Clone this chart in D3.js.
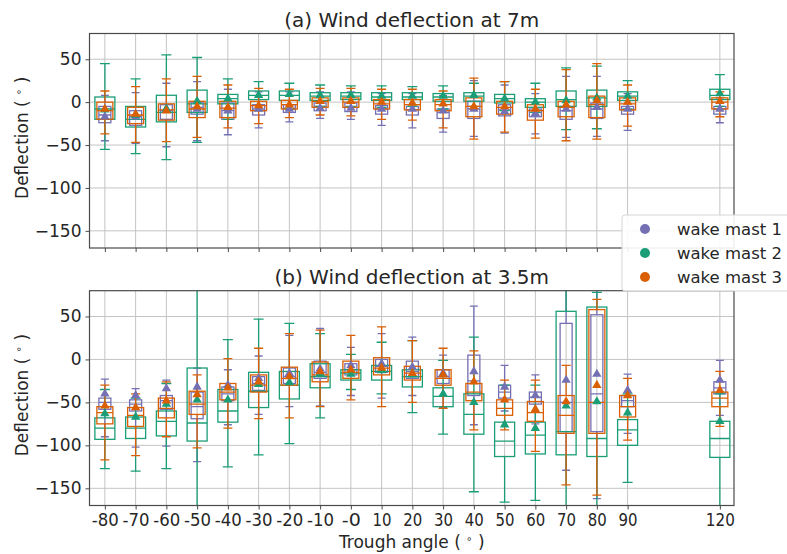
<!DOCTYPE html>
<html><head><meta charset="utf-8">
<script src="https://cdn.jsdelivr.net/npm/d3@7"></script>
<style>
body{margin:0;background:#fff;}
svg{display:block;font-family:"DejaVu Sans",sans-serif;}
</style></head>
<body><svg id="chart" width="787" height="554"></svg>
<script>
// ---------- data ----------
const angles = [-80,-70,-60,-50,-40,-30,-20,-10,0,10,20,30,40,50,60,70,80,90,120];
const angleLabels = ["-80","-70","-60","-50","-40","-30","-20","-10","-0","10","20","30","40","50","60","70","80","90","120"];
const seriesNames = ["wake mast 1","wake mast 2","wake mast 3"];
const seriesColors = ["#7570b3","#1b9e77","#d95f02"];
const yTicks = [50,0,-50,-100,-150];
const panelTitles = ["(a) Wind deflection at 7m","(b) Wind deflection at 3.5m"];
// each entry: [low whisker, q1, median, q3, high whisker, mean]
const a7m_mast1 = [[-45,-24,-15,-5,8,-17],[-48,-27,-17,-10,11,-17],[-52,-20,-10,-3,22,-8],[-45,-14,-6,0,24,-8],[-38,-20,-10,-1,15,-10],[-30,-15,-8,-3,12,-8],[-23,-12,-7,-3,12,-8],[-19,-10,-5,-1,12,-7],[-20,-11,-6,-1,12,-7],[-27,-14,-8,-4,10,-8],[-30,-15,-9,-5,10,-8],[-35,-19,-12,-8,8,-10],[-40,-19,-8,1,25,-8],[-36,-16,-9,-3,20,-11],[-37,-17,-12,-8,10,-13],[-41,-20,-10,-5,30,-8],[-40,-19,-8,-1,30,-6],[-33,-14,-9,-5,10,-8],[-24,-14,-8,-5,5,-8]];
const a7m_mast2 = [[-55,-20,-8,6,45,-9],[-60,-29,-20,-5,27,-15],[-67,-23,-12,8,55,-8],[-47,-12,-2,14,52,1],[-20,-2,4,9,27,4],[-10,3,8,13,24,8],[-8,2,8,13,22,9],[-5,2,7,11,20,8],[-5,3,7,11,19,8],[-6,2,6,11,19,7],[-5,3,6,11,18,7],[-8,1,6,10,19,7],[-5,1,7,11,22,8],[-10,-1,4,9,24,4],[-12,-6,0,4,22,0],[-32,-5,3,13,40,2],[-31,-5,5,14,42,5],[-8,2,7,12,25,7],[-5,3,8,15,32,10]];
const a7m_mast3 = [[-37,-20,-10,0,13,-8],[-47,-25,-15,-6,18,-14],[-46,-21,-9,-2,27,-10],[-41,-18,-8,1,30,-5],[-30,-18,-7,1,20,-6],[-25,-10,-4,1,16,-4],[-18,-8,-3,2,15,-3],[-15,-6,1,5,16,1],[-16,-6,0,5,16,1],[-20,-8,-2,3,15,0],[-21,-9,-3,3,15,-1],[-30,-10,-3,3,13,-2],[-43,-17,-5,5,28,-5],[-35,-14,-6,1,24,-5],[-42,-21,-10,-3,15,-8],[-45,-17,-6,1,38,-3],[-43,-18,-3,7,45,2],[-28,-9,-2,5,20,0],[-17,-8,0,5,12,1]];
const b35m_mast1 = [[-90,-58,-50,-45,-23,-40],[-102,-60,-52,-47,-34,-42],[-101,-58,-48,-42,-24,-34],[-119,-69,-55,-38,-10,-32],[-76,-48,-40,-32,-12,-30],[-64,-36,-28,-20,4,-22],[-55,-28,-20,-10,28,-16],[-54,-22,-15,-2,36,-11],[-42,-18,-12,-5,14,-7],[-45,-15,-8,0,30,-5],[-42,-22,-14,-2,26,-9],[-56,-28,-20,-12,5,-16],[-76,-42,-25,5,62,-14],[-60,-45,-38,-30,-7,-32],[-75,-52,-44,-38,-18,-42],[-129,-84,-50,42,95,-24],[-162,-84,-40,52,95,-17],[-86,-55,-48,-42,-17,-36],[-65,-40,-33,-26,-1,-24]];
const b35m_mast2 = [[-127,-93,-80,-68,-35,-63],[-130,-92,-80,-67,-45,-67],[-127,-89,-72,-60,-28,-52],[-185,-95,-74,-10,95,-47],[-125,-73,-60,-35,23,-47],[-111,-56,-37,-15,47,-29],[-98,-46,-30,-14,42,-27],[-68,-33,-20,-5,30,-16],[-35,-24,-16,-12,6,-17],[-40,-24,-14,-7,20,-13],[-62,-32,-20,-12,22,-18],[-87,-55,-43,-33,-1,-40],[-154,-87,-64,-40,26,-50],[-166,-113,-95,-73,-30,-76],[-164,-110,-88,-73,-30,-80],[-185,-111,-84,56,95,-54],[-185,-113,-92,61,78,-49],[-143,-100,-82,-70,-40,-62],[-185,-114,-92,-72,-40,-72]];
const b35m_mast3 = [[-117,-75,-62,-55,-30,-54],[-112,-78,-65,-56,-40,-56],[-90,-68,-57,-45,-26,-48],[-103,-64,-52,-37,-18,-41],[-80,-47,-38,-28,1,-33],[-69,-38,-30,-18,13,-26],[-68,-30,-22,-9,30,-20],[-55,-26,-18,-3,34,-14],[-47,-22,-15,-2,28,-12],[-55,-18,-10,2,38,-10],[-50,-24,-16,-8,22,-16],[-57,-30,-22,-12,13,-18],[-82,-48,-38,-28,10,-26],[-82,-65,-57,-47,-24,-47],[-107,-72,-62,-49,-24,-58],[-146,-86,-65,-42,-7,-49],[-158,-86,-50,58,70,-30],[-94,-67,-55,-42,-22,-42],[-78,-55,-45,-38,-14,-36]];

// ---------- layout ----------
const svg = d3.select("#chart");
const left = 89.5, right = 734;
const panels = [
  {top: 33.5, bottom: 248, title: panelTitles[0], data: [a7m_mast1, a7m_mast2, a7m_mast3], labels: false},
  {top: 290.7, bottom: 505.5, title: panelTitles[1], data: [b35m_mast1, b35m_mast2, b35m_mast3], labels: true}
];
const x = d3.scaleLinear().domain([-85, 124.6]).range([left, right]);
const boxW = [12, 20, 16];
const capW = [8, 10, 9];
const gridCol = "#c4c4c4", spineCol = "#4a4a4a", textCol = "#262626";

panels.forEach((p, pi) => {
  const y = d3.scaleLinear().domain([-170, 80]).range([p.bottom, p.top]);
  const g = svg.append("g");
  const clipId = "clip" + pi;
  svg.append("clipPath").attr("id", clipId).append("rect")
    .attr("x", left).attr("y", p.top).attr("width", right - left).attr("height", p.bottom - p.top);

  // grid
  g.append("g").selectAll("line").data(angles).join("line")
    .attr("x1", d => x(d)).attr("x2", d => x(d)).attr("y1", p.top).attr("y2", p.bottom)
    .attr("stroke", gridCol).attr("stroke-width", 1);
  g.append("g").selectAll("line").data(yTicks).join("line")
    .attr("x1", left).attr("x2", right).attr("y1", d => y(d)).attr("y2", d => y(d))
    .attr("stroke", gridCol).attr("stroke-width", 1);

  // boxes
  const marks = g.append("g").attr("clip-path", `url(#${clipId})`);
  p.data.forEach((ser, si) => {
    const col = seriesColors[si], w = boxW[si], cw = capW[si];
    const sg = marks.append("g").attr("stroke", col).attr("stroke-width", 1.3).attr("fill", "none");
    ser.forEach((d, i) => {
      const cx = x(angles[i]);
      const [lo, q1, med, q3, hi] = d;
      sg.append("line").attr("x1", cx).attr("x2", cx).attr("y1", y(q1)).attr("y2", y(lo));
      sg.append("line").attr("x1", cx).attr("x2", cx).attr("y1", y(q3)).attr("y2", y(hi));
      sg.append("line").attr("x1", cx - cw/2).attr("x2", cx + cw/2).attr("y1", y(lo)).attr("y2", y(lo));
      sg.append("line").attr("x1", cx - cw/2).attr("x2", cx + cw/2).attr("y1", y(hi)).attr("y2", y(hi));
      sg.append("rect").attr("x", cx - w/2).attr("y", y(q3)).attr("width", w).attr("height", y(q1) - y(q3));
      sg.append("line").attr("x1", cx - w/2).attr("x2", cx + w/2).attr("y1", y(med)).attr("y2", y(med));
    });
  });
  p.data.forEach((ser, si) => {
    marks.append("g").selectAll("path").data(ser).join("path")
      .attr("d", d3.symbol(d3.symbolTriangle, 38)())
      .attr("transform", (d, i) => `translate(${x(angles[i])},${y(d[5])})`)
      .attr("fill", seriesColors[si]);
  });

  // spines
  g.append("rect").attr("x", left).attr("y", p.top).attr("width", right - left).attr("height", p.bottom - p.top)
    .attr("fill", "none").attr("stroke", spineCol).attr("stroke-width", 1.2);

  // y axis
  const ya = g.append("g").attr("transform", `translate(${left},0)`)
    .call(d3.axisLeft(y).tickValues(yTicks).tickSize(4).tickPadding(4)
      .tickFormat(d => (d < 0 ? "\u2212" + Math.abs(d) : String(d))));
  ya.select(".domain").remove();
  ya.selectAll("line").attr("stroke", spineCol);
  ya.selectAll("text").attr("font-size", "17px").attr("fill", textCol).attr("font-family", "DejaVu Sans");

  // x axis
  const xa = g.append("g").attr("transform", `translate(0,${p.bottom})`)
    .call(d3.axisBottom(x).tickValues(angles).tickSize(4).tickPadding(4)
      .tickFormat((d, i) => p.labels ? angleLabels[i] : ""));
  xa.select(".domain").remove();
  xa.selectAll("line").attr("stroke", spineCol);
  xa.selectAll("text").attr("font-size", "17.5px").attr("fill", textCol).attr("font-family", "DejaVu Sans")
    .attr("textLength", 27).attr("lengthAdjust", "spacingAndGlyphs");
  xa.selectAll("text").filter((d, i) => angleLabels[i].length === 2).attr("textLength", 19);
  xa.selectAll("text").filter((d, i) => angleLabels[i].length === 3 && angleLabels[i][0] !== "-").attr("textLength", 29);

  // title
  svg.append("text").attr("x", (left + right) / 2).attr("y", p.top - 7)
    .attr("text-anchor", "middle").attr("font-size", "20px").attr("fill", textCol).text(p.title);

  // y label
  const yl = svg.append("text").attr("transform", `translate(28,${(p.top + p.bottom) / 2 - 3}) rotate(-90)`)
    .attr("text-anchor", "middle").attr("font-size", "17px").attr("fill", textCol);
  yl.append("tspan").text("Deflection ( ");
  yl.append("tspan").attr("font-size", "10px").attr("dy", -6).text("\u2218");
  yl.append("tspan").attr("dy", 6).text(" )");
});

// x label
const xl = svg.append("text").attr("x", (left + right) / 2).attr("y", 548)
  .attr("text-anchor", "middle").attr("font-size", "17px").attr("fill", textCol);
xl.append("tspan").text("Trough angle ( ");
xl.append("tspan").attr("font-size", "10px").attr("dy", -6).text("\u2218");
xl.append("tspan").attr("dy", 6).text(" )");

// legend
const lg = svg.append("g");
lg.append("rect").attr("x", 622).attr("y", 215).attr("width", 172).attr("height", 76).attr("rx", 3)
  .attr("fill", "#fff").attr("fill-opacity", 0.9).attr("stroke", "#d6d6d6").attr("stroke-width", 1);
seriesNames.forEach((n, i) => {
  lg.append("circle").attr("cx", 645).attr("cy", 229 + i * 24).attr("r", 5).attr("fill", seriesColors[i]);
  lg.append("text").attr("x", 677).attr("y", 235 + i * 24).attr("font-size", "16.5px").attr("fill", textCol).text(n);
});
</script></body></html>
